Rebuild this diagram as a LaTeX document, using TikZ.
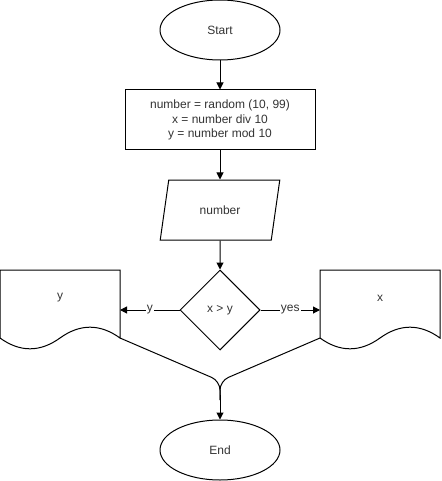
\documentclass[tikz,border=0pt]{standalone}
\usepackage{fontspec}
\setmainfont{Liberation Sans}
\usetikzlibrary{shapes.geometric,arrows.meta}
\definecolor{txt}{HTML}{333333}
\begin{document}
\begin{tikzpicture}[x=1pt,y=-1pt,line width=1pt,
  every node/.style={font=\fontsize{12}{14.5}\selectfont,text=txt},
  term/.style={draw,ellipse,minimum width=120pt,minimum height=60pt,inner sep=0pt},
  procbox/.style={draw,rectangle,minimum width=190pt,minimum height=60pt,align=center},
  io/.style={draw,trapezium,trapezium left angle=69,trapezium right angle=111,minimum width=120pt,minimum height=60pt,trapezium stretches=true,inner sep=0pt},
  decision/.style={draw,diamond,minimum width=80pt,minimum height=80pt,inner sep=0pt,aspect=1},
  conn/.style={-{Triangle[length=7pt,width=7pt]}},
  lbl/.style={fill=white,inner sep=1pt}]
\useasboundingbox (0,0) rectangle (441,481);
\node[term] (start) at (220,30) {Start};
\node[procbox] (calc) at (220,120) {number = random (10, 99)\\x = number div 10\\y = number mod 10};
\node[io] (out) at (220,210) {number};
\node[decision] (dec) at (220,310) {x > y};
\node[term] (end) at (220,450) {End};
% documents
\draw (0,270) -- (120,270) -- (120,338) .. controls (100,323.6) and (80,323.6) .. (60,338) .. controls (40,352.4) and (20,352.4) .. (0,338) -- cycle;
\draw (320,270) -- (440,270) -- (440,338) .. controls (420,323.6) and (400,323.6) .. (380,338) .. controls (360,352.4) and (340,352.4) .. (320,338) -- cycle;
\coordinate (docy) at (120,310);
\coordinate (docx) at (320,310);
\coordinate (docyb) at (120,338);
\coordinate (docxb) at (320,338);
\coordinate (merge) at (220,381);
\node at (60,298) (ty) {y};
\node at (380,298) (tx) {x};
\draw[conn] (start) -- (calc);
\draw[conn] (calc) -- (out);
\draw[conn] (out) -- (dec);
\draw[conn] (dec.west) -- node[lbl] {y} (docy);
\draw[conn] (dec.east) -- node[lbl] {yes} (docx);
\draw[rounded corners=9pt] (docyb) -- (merge) -- (220,400);
\draw[rounded corners=9pt] (docxb) -- (merge) -- (220,400);
\draw[conn] (220,395) -- (end);
\end{tikzpicture}
\end{document}
